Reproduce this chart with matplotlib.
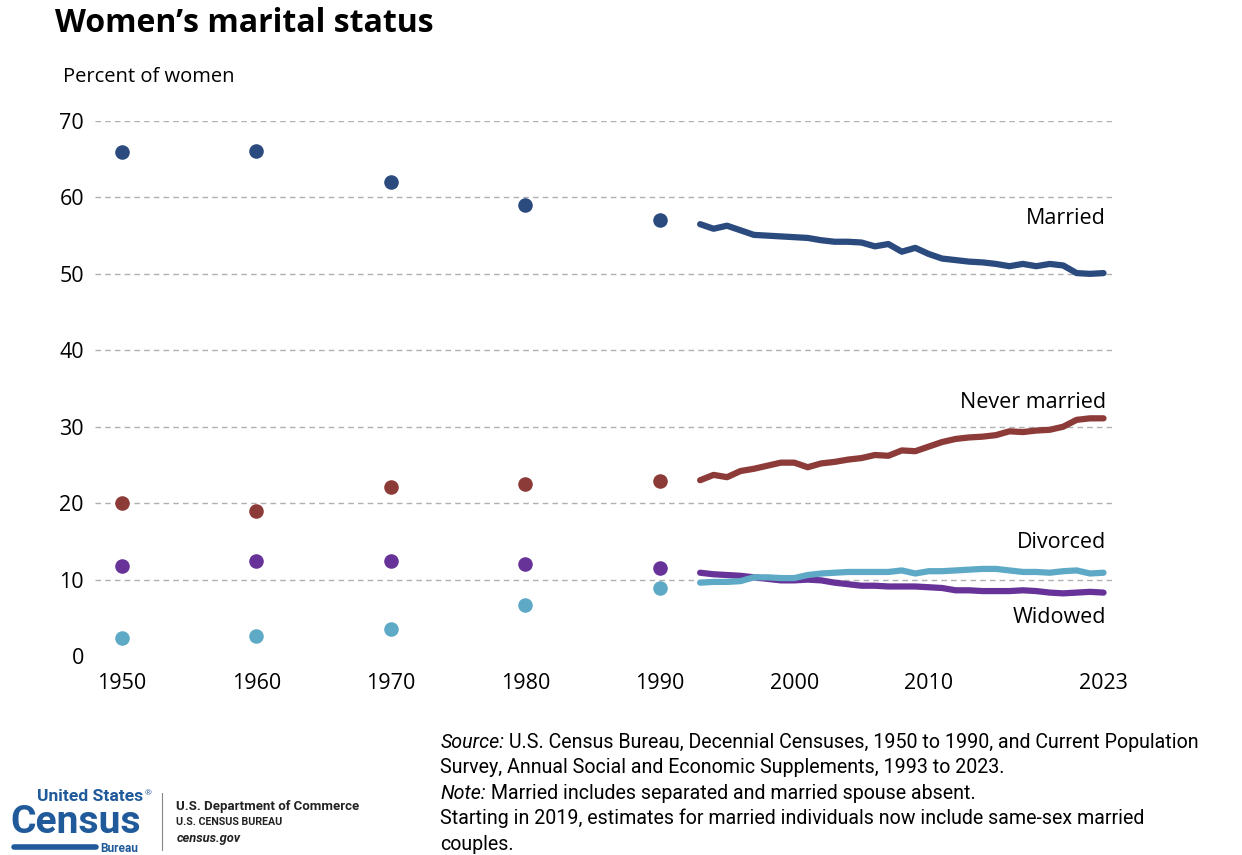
import matplotlib.pyplot as plt

# decennial census points
census_years = [1950, 1960, 1970, 1980, 1990]
married_pts = [66.0, 66.1, 62.0, 59.0, 57.1]
never_pts = [20.0, 19.0, 22.1, 22.5, 22.9]
widowed_pts = [11.8, 12.4, 12.4, 12.0, 11.5]
divorced_pts = [2.4, 2.6, 3.5, 6.7, 8.9]

# CPS ASEC series 1993-2023
cps_years = list(range(1993, 2024))
married = [56.5, 55.9, 56.3, 55.7, 55.1, 55.0, 54.9, 54.8, 54.7, 54.4,
           54.2, 54.2, 54.1, 53.6, 53.9, 52.9, 53.4, 52.6, 52.0, 51.8,
           51.6, 51.5, 51.3, 51.0, 51.3, 51.0, 51.3, 51.1, 50.1, 50.0, 50.1]
never_married = [23.0, 23.7, 23.4, 24.2, 24.5, 24.9, 25.3, 25.3, 24.7, 25.2,
                 25.4, 25.7, 25.9, 26.3, 26.2, 26.9, 26.8, 27.4, 28.0, 28.4,
                 28.6, 28.7, 28.9, 29.4, 29.3, 29.5, 29.6, 30.0, 30.9, 31.1, 31.1]
widowed = [10.9, 10.7, 10.6, 10.5, 10.3, 10.1, 9.9, 9.9, 10.0, 9.9,
           9.6, 9.4, 9.2, 9.2, 9.1, 9.1, 9.1, 9.0, 8.9, 8.6,
           8.6, 8.5, 8.5, 8.5, 8.6, 8.5, 8.3, 8.2, 8.3, 8.4, 8.3]
divorced = [9.6, 9.7, 9.7, 9.8, 10.3, 10.3, 10.2, 10.2, 10.6, 10.8,
            10.9, 11.0, 11.0, 11.0, 11.0, 11.2, 10.8, 11.1, 11.1, 11.2,
            11.3, 11.4, 11.4, 11.2, 11.0, 11.0, 10.9, 11.1, 11.2, 10.8, 10.9]

c_married = "#2b4a7e"
c_never = "#8c3b38"
c_widowed = "#673399"
c_divorced = "#5eaac6"

plt.rcParams['font.family'] = ['Open Sans', 'DejaVu Sans']

fig = plt.figure(figsize=(12.42, 8.55), dpi=100)
ax = fig.add_axes([0.0765, 0.2327, 0.8185, 0.6258])

for pts, col in [(married_pts, c_married), (never_pts, c_never),
                 (widowed_pts, c_widowed), (divorced_pts, c_divorced)]:
    ax.scatter(census_years, pts, s=110, color=col, zorder=3, linewidths=0)

ax.plot(cps_years, married, color=c_married, lw=4.5, solid_capstyle='round', zorder=3)
ax.plot(cps_years, never_married, color=c_never, lw=4.5, solid_capstyle='round', zorder=3)
ax.plot(cps_years, widowed, color=c_widowed, lw=4.5, solid_capstyle='round', zorder=3)
ax.plot(cps_years, divorced, color=c_divorced, lw=4.5, solid_capstyle='round', zorder=4)

for yv in range(10, 80, 10):
    ax.axhline(yv, color="#b0b0b0", lw=1, ls=(0, (4, 3)), zorder=1)

ax.set_xlim(1948, 2023.6)
ax.set_ylim(0, 70)
ax.set_xticks([1950, 1960, 1970, 1980, 1990, 2000, 2010, 2023])
ax.set_yticks(range(0, 80, 10))
ax.tick_params(length=0, labelsize=15.5, pad=8)
ax.tick_params(axis='x', pad=12)
for s in ax.spines.values():
    s.set_visible(False)

ax.text(2023.2, 57.2, "Married", ha='right', va='center', fontsize=15.5)
ax.text(2023.2, 33.2, "Never married", ha='right', va='center', fontsize=15.5)
ax.text(2023.2, 14.9, "Divorced", ha='right', va='center', fontsize=15.5)
ax.text(2023.2, 5.0, "Widowed", ha='right', va='center', fontsize=15.5)

fig.text(0.044, 0.972, "Women\u2019s marital status", fontsize=23, fontweight='bold', va='center')
fig.text(0.051, 0.910, "Percent of women", fontsize=14.5, va='center')

fig.canvas.draw()
rend = fig.canvas.get_renderer()


def fit_width(t, px):
    w = t.get_window_extent(rend).width
    t.set_fontsize(t.get_fontsize() * px / w)


notes = [("Source:", " U.S. Census Bureau, Decennial Censuses, 1950 to 1990, and Current Population"),
         ("", "Survey, Annual Social and Economic Supplements, 1993 to 2023."),
         ("Note:", " Married includes separated and married spouse absent."),
         ("", "Starting in 2019, estimates for married individuals now include same-sex married"),
         ("", "couples.")]
fam = ['Roboto', 'DejaVu Sans']
probe = fig.text(0, 0, notes[0][0] + notes[0][1], fontsize=13, family=fam)
fit_width(probe, 762)
nsize = probe.get_fontsize()
probe.remove()

y0 = 1 - 742 / 855
for i, (it, rest) in enumerate(notes):
    yy = y0 - i * 25.5 / 855
    x1 = 0.3545
    if it:
        t = fig.text(x1, yy, it, fontsize=nsize, style='italic', va='center', family=fam)
        x1 = t.get_window_extent(rend).x1 / fig.bbox.width
    fig.text(x1, yy, rest, fontsize=nsize, va='center', family=fam)

# Census logo
blue = "#205a9a"
lfam = ['Roboto', 'DejaVu Sans']
t = fig.text(0.030, 1 - 796 / 855, "United States", fontsize=12, color=blue, va='center',
             family=lfam, fontweight='bold')
fit_width(t, 106)
fig.text(0.1165, 1 - 794 / 855, "\u00ae", fontsize=6, color=blue, va='center')
t = fig.text(0.008, 1 - 833 / 855, "Census", fontsize=30, color=blue, va='baseline',
             fontweight='bold', family=lfam)
fit_width(t, 130)
fig.add_artist(plt.Line2D([0.011, 0.077], [1 - 847 / 855, 1 - 847 / 855], color=blue, lw=4,
                          solid_capstyle='round', transform=fig.transFigure))
t = fig.text(0.081, 1 - 848 / 855, "Bureau", fontsize=9, color=blue, va='center',
             fontweight='bold', family=lfam)
fit_width(t, 38)
fig.add_artist(plt.Line2D([0.1305, 0.1305], [1 - 793 / 855, 1 - 850 / 855], color="#888888", lw=0.8,
                          transform=fig.transFigure))
t = fig.text(0.142, 1 - 806 / 855, "U.S. Department of Commerce", fontsize=9.5,
             fontweight='bold', color="#222222", va='center', family=lfam)
fit_width(t, 184)
t = fig.text(0.142, 1 - 822 / 855, "U.S. CENSUS BUREAU", fontsize=7.5,
             fontweight='bold', color="#222222", va='center', family=lfam)
fit_width(t, 106)
t = fig.text(0.142, 1 - 838 / 855, "census.gov", fontsize=9.5, fontweight='bold',
             style='italic', color="#222222", va='center', family=lfam)
fit_width(t, 65)

fig.savefig("out.png", dpi=100)
